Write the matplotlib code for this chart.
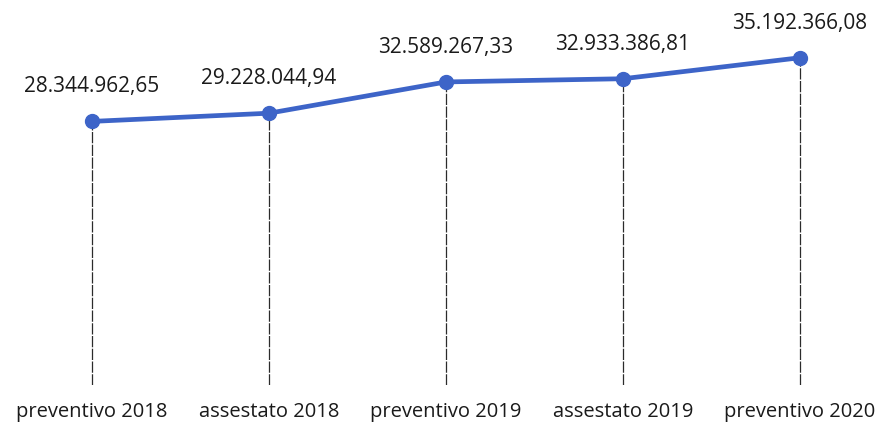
import matplotlib
matplotlib.use("Agg")
import matplotlib.pyplot as plt

# dati
categorie = ["preventivo 2018", "assestato 2018", "preventivo 2019",
             "assestato 2019", "preventivo 2020"]
valori = [28344962.65, 29228044.94, 32589267.33, 32933386.81, 35192366.08]
etichette = ["28.344.962,65", "29.228.044,94", "32.589.267,33",
             "32.933.386,81", "35.192.366,08"]

plt.rcParams["font.family"] = ["Open Sans", "DejaVu Sans"]

fig = plt.figure(figsize=(8.8, 4.24), dpi=100)
ax = fig.add_axes([0, 39 / 424, 1, 385 / 424])

x = list(range(len(categorie)))
blu = "#3d64c8"

# linee verticali tratteggiate fino all'asse
ax.vlines(x, 0, valori, colors="#2b2b2b", linewidth=0.9,
          linestyles=(0, (9, 1.2)), zorder=1)

ax.plot(x, valori, color=blu, linewidth=3.4, marker="o", markersize=10,
        zorder=3)

for xi, v, lab in zip(x, valori, etichette):
    ax.annotate(lab, (xi, v), xytext=(0, 25), textcoords="offset points",
                ha="center", va="center", fontsize=15, color="#1a1a1a")

ax.set_xlim(-92 / 177, (880 - 92) / 177)
ax.set_ylim(0, 41.4e6)
ax.axis("off")

for xi, c in zip(x, categorie):
    ax.text(xi, -0.07, c, transform=ax.get_xaxis_transform(),
            ha="center", va="center", fontsize=14.5, color="#1a1a1a")

fig.savefig("out.png", dpi=100)
